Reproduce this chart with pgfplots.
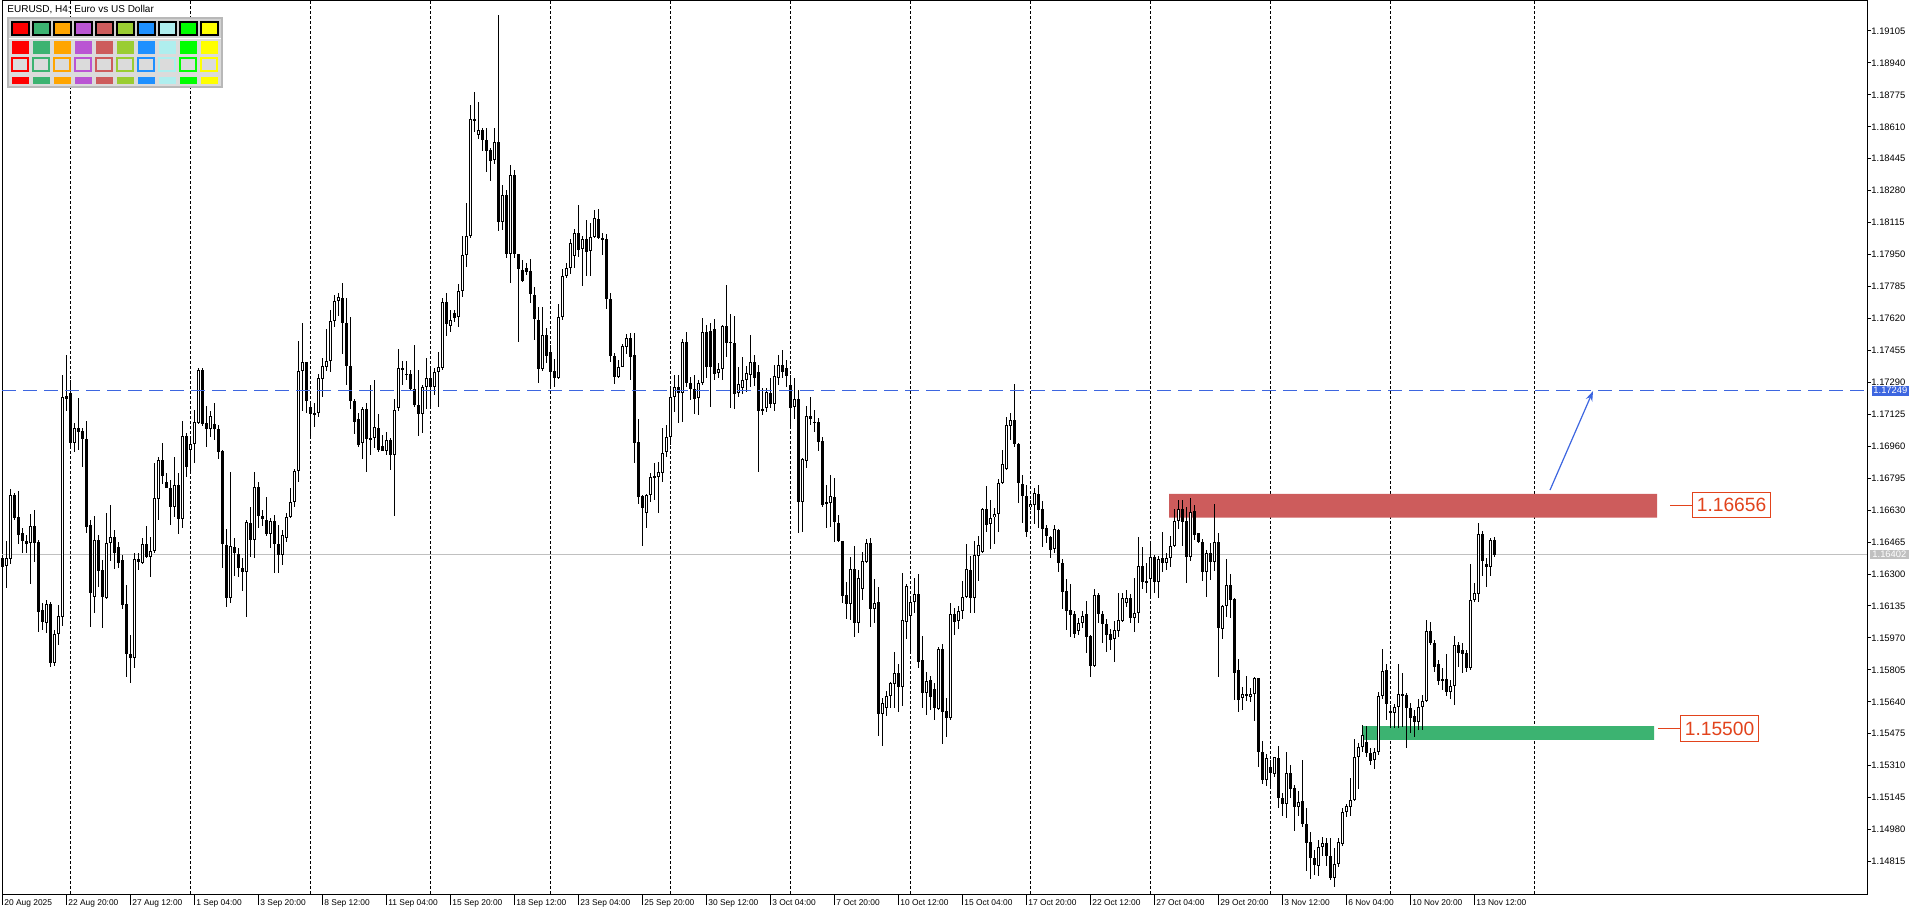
\documentclass[border=0pt]{standalone}
\usepackage{pgfplots}
\pgfplotsset{compat=1.18}
\usepackage{pgfplotstable}
\usepackage{fontspec}
\setmainfont{Liberation Sans}
\usetikzlibrary{arrows.meta}

\definecolor{zblue}{HTML}{3D66E0}
\definecolor{zred}{HTML}{CD5C5C}
\definecolor{zgreen}{HTML}{3CB371}
\definecolor{zlab}{HTML}{E2431C}
\definecolor{zgray}{HTML}{C0C0C0}
\definecolor{pr}{HTML}{FF0000}
\definecolor{pg}{HTML}{3CB371}
\definecolor{po}{HTML}{FFA500}
\definecolor{pm}{HTML}{BA55D3}
\definecolor{pi}{HTML}{CD5C5C}
\definecolor{py}{HTML}{9ACD32}
\definecolor{pd}{HTML}{1E90FF}
\definecolor{pt}{HTML}{AFEEEE}
\definecolor{pl}{HTML}{00FF00}
\definecolor{pw}{HTML}{FFFF00}

% price = \pA - \pB * v   (v = screen row of the 1920x915 chart)
\def\pA{1.19265}
\def\pB{0.00005165}

% EURUSD H4 bars: i = bar number, o h l c = open high low close (screen rows)
\pgfplotstableread{
i o h l c
1 558.3 556.7 570 566.7
2 565.7 541 588.3 558.3
3 559.3 489.3 564 495
4 495 492.7 520 517.7
5 517 491 544 535
6 533.3 528.3 553.3 541.3
7 541 535 553.3 544.3
8 543.3 514 584.3 526
9 526 510 561.7 542.7
10 542 540 631.7 611.7
11 610 603.3 630 621.7
12 622.7 600 633.3 604.3
13 604.3 601.7 666.7 663.3
14 663.3 630 666 634
15 634.3 605 645 616
16 616.7 375 626 396.7
17 396 355 410.7 398.7
18 393.3 380 446.7 442.7
19 442.7 423.3 451.7 428.3
20 428.3 398.3 450 431.7
21 430.7 428.3 467.3 439.3
22 439 421 533.3 526.7
23 525 520 627.3 593.3
24 596.7 516 613.3 540
25 540 535 587.3 570.7
26 570 560 628.3 597.3
27 597.7 513.3 599.3 543.3
28 543.3 505 560.7 537.3
29 537.3 530 569.3 553.3
30 547.3 541.7 568.3 562.7
31 560 555 609.3 605
32 604.3 585 677.3 654.3
33 654.3 635 682.7 658.3
34 658.3 553.3 668.3 559.3
35 559.3 553.3 570 561.7
36 563.3 538.3 564 544
37 544 526 558.3 556.7
38 556.7 536.7 576.7 550.7
39 550.7 463.3 553.3 498.3
40 499.3 456.7 520 460
41 460 443.3 484 476
42 482.3 473.3 488.3 487.7
43 487.7 480 525 507.3
44 506.7 456.7 516.7 485
45 485 473.3 534.3 519
46 519 420.7 528.3 436
47 436 433.3 476.7 466.7
48 450 439.3 471.7 444.3
49 444.3 410 462.7 422
50 422.7 368.3 424 370
51 370 368.3 426 424
52 422.7 406 446.7 429.3
53 429.3 410.7 436.7 416
54 424 403.3 440 429.3
55 429.3 425 459.3 451.7
56 451 450 567.7 544.3
57 545 529 607.3 598.3
58 598.3 471.7 603.3 546
59 546.7 538.3 576 552.7
60 554 548.3 577.3 568.3
61 568.3 558.3 590.7 571.7
62 572.3 520 616.7 522
63 522.7 507 556.8 539.7
64 539.7 471.7 558.3 487.1
65 487.1 481.6 527.9 516
66 516 510 525.9 519.2
67 520 497.4 535.8 533.8
68 533.8 518 547.6 521.1
69 521.1 515.2 573.4 543.7
70 543.7 525.1 572.6 555.5
71 555.5 529.9 565.4 534.6
72 538.5 513.2 541.7 517.2
73 517.2 488.3 518 502.2
74 502.2 468.6 507.3 471.3
75 471.3 340.8 482.4 370.9
76 370.9 323.4 411.2 362.2
77 362.2 361.8 413.2 400.6
78 407.3 403.3 436.1 414.4
79 413.2 403.3 427 414.4
80 413.2 373.7 417.1 377.6
81 378.8 357.8 397.4 365.8
82 366.9 329 370.9 360.6
83 360.6 310.4 371.7 321.1
84 321.1 294.6 326.6 301.3
85 301.3 293.4 316.3 297.3
86 298.5 283.1 353.9 323.4
87 323.4 297.7 385.5 365.8
88 365.8 317.1 409.2 401.3
89 401.3 399.4 434.2 422.3
90 419.1 413.2 446.8 444.8
91 442.9 407.3 459.5 409.2
92 409.2 403.3 472.5 438.9
93 438.1 385.5 454.7 439.7
94 438.1 380.4 447.6 427
95 427.8 414 452 449.6
96 446 435 451.5 450.8
97 450.8 432.2 454.7 439.7
98 439.7 438.1 470.5 454.7
99 454.7 398.6 516 410.4
100 408.1 348.8 411.2 367.7
101 367.7 360.6 385.5 369.7
102 374 361 379.6 374.8
103 373.7 369.7 391.5 388.7
104 388.7 345.2 407.3 405.3
105 405.3 369.7 436.1 414.4
106 414.4 385.5 433 387.5
107 387.5 357.8 409.2 377.6
108 377.6 365.8 407.3 387.5
109 387.5 367.7 394.6 371.7
110 371.7 351.9 407.3 366.9
111 367.7 298.5 369.7 302.5
112 302.5 292.6 336.1 324.2
113 326.2 310.4 332.1 320.3
114 313.2 310.4 322.3 318.3
115 317.5 283.9 327.4 290.6
116 290.6 236.1 296.6 255
117 255 202.8 266.9 236.5
118 236.5 104.8 238 119.4
119 120.6 92.1 132.5 119.4
120 135.2 102 139.2 130.5
121 130.5 128.5 151.4 140.4
122 140.4 128.5 172 151
123 150.3 148.3 181.1 161.3
124 160.1 128.5 164.1 142.3
125 142.3 15 231.3 222.2
126 221.7 185 230 195
127 195 190 257.7 254.3
128 254.3 165 283.3 175
129 175 170 258 254.3
130 254.3 254 341.7 269.3
131 270 260 281.7 280.7
132 268.3 263.3 275 271.7
133 271 259.3 303.3 294.3
134 295 286.7 340 319.3
135 320 306.7 383.3 369
136 369 306.7 371 335
137 335 328.3 363.3 355.7
138 352.3 345 388.3 371.7
139 371 359.3 386.7 378.3
140 378.3 304 379 317.3
141 317.3 269 320 276
142 276 262.7 278.3 268.3
143 268.3 239.3 274 242.7
144 256 229.3 268.3 233.3
145 233.3 205 256.7 250
146 249.3 236 285.7 239.3
147 239.3 220 276 251.7
148 251 223.3 276 236.7
149 236.7 210 238.3 218.3
150 219.3 209.3 239.3 237.7
151 237.7 233.3 255 240
152 239.3 234 309.3 299.3
153 299.3 293.3 361.7 355.7
154 355.7 353.3 384.3 376.7
155 376.7 360 378.3 366.7
156 366.7 344 367.3 346
157 346.7 334 354 338.3
158 338.3 333.3 380 356.7
159 355 333.3 462.7 442.7
160 441.7 419.3 504 496.7
161 496 495 546 508.3
162 513.3 494 528.3 495
163 495 473.3 501.7 477.3
164 477.3 463.3 500 476
165 476.7 461.7 513.3 472
166 472.7 428.3 481.7 452.7
167 451.7 425 457.3 436.7
168 436.7 389.3 445 397.3
169 397.3 375 411.7 387.3
170 387.3 375 423.3 392.7
171 392.7 339.3 421.7 342.3
172 342.3 331.7 386.7 382.7
173 383.3 376.7 400 389.3
174 389.3 375 414.3 399.3
175 398.3 380 415 383.3
176 382.7 318.3 385 331.7
177 331.7 325 378.3 366.7
178 330.7 322.7 407.3 367.3
179 329.3 319.3 380 374.3
180 372.7 363.3 378.3 369.3
181 369.3 325 380 326
182 326 285 356.7 343.3
183 341.7 314 407.7 343.3
184 343.3 316 409.3 394
185 393.3 366.7 397.3 384.3
186 388.3 356.7 394 380
187 380 366 391.7 372.7
188 375 335 387 362
189 362 355 386 378
190 372 365 471.7 410.7
191 409.3 388.3 415 410.7
192 408.3 388.3 412.3 391.7
193 392.7 378 408.3 404.3
194 404.3 365 410.7 376
195 378 355 385 365
196 365 350 378 372
197 368 360 387.3 376
198 385 375 426.7 407.7
199 406.7 378 419.3 399.3
200 399.3 390 532.7 501.7
201 501.7 458.3 531.7 459
202 460.7 406 468.3 416
203 416 396.7 425 419.3
204 421.7 410 431.7 423.3
205 421.7 418.3 450.7 441.7
206 441 437.3 506.7 505
207 504.3 485 528.3 502.3
208 502.7 475 526.7 496
209 497.3 478.3 541.7 521.7
210 523.3 515 541.7 540.7
211 541 541 602.7 596
212 595 581.7 619.3 604.3
213 604.3 557.3 620 569.3
214 569.3 546 636.7 622.7
215 622.7 570 633.3 578.3
216 589.3 552.3 600 561
217 561.7 539.3 562.7 543.3
218 543.3 538.3 627.3 609.3
219 609.3 579.3 622.7 603.3
220 602.3 587.3 735.7 714.3
221 714.3 698.3 745.7 702.7
222 708.3 690.7 716 696
223 696 681.7 708.3 683.3
224 684 651.7 708.3 673.3
225 673.3 664 711.7 686.7
226 686.7 572.7 706 620
227 621.7 584 639.3 586
228 616 598.3 652.7 601.7
229 601.7 578.3 612.7 594
230 594 574 668.3 661.7
231 660 636 708.3 693.3
232 693.3 671.7 715 681
233 680 676 710 696.7
234 689.3 682.7 720 708.3
235 709 646.7 710 649.3
236 649.3 644 744.3 712.3
237 711 698.3 737.3 718.3
238 718.3 603.3 720 614.3
239 614.3 608.3 635 621.7
240 621 606 629.3 611
241 611 580.7 619.3 597.3
242 597.3 544 598.3 569.3
243 570 556 612.7 598.3
244 598.3 541 612.7 555
245 556 536 580.7 545
246 551.7 508.3 552.7 509.3
247 509.3 486 531.7 525
248 524.3 500 549.3 518.3
249 517.3 508.3 544.3 514.3
250 514.3 479.3 531.7 482.7
251 482.7 450 484.3 464.3
252 469.3 416.7 470 425
253 425.7 413.3 440 420
254 420 384 446.7 444.3
255 444.3 443.3 502.7 483.3
256 484.3 475 523.3 495.7
257 496 485 536.7 531.7
258 507.3 500 510 504.3
259 505 488.3 524 493.3
260 494 485 528.3 510
261 509.3 501 546.7 529
262 528.3 525 543.3 535.7
263 536.7 536 558.3 550
264 549 525 552.7 529.3
265 530 529.3 571.7 563.3
266 562.7 559.3 609.3 591.7
267 590.7 579.3 630 610.7
268 610 584 636.7 615
269 614 610.7 637.7 634
270 630.7 618.3 635 623.3
271 623.3 610.7 628.3 615.7
272 614.3 600.7 652.7 636.7
273 636 635 677.3 665.7
274 666 589.3 666.7 595
275 595 592.7 623.3 614.3
276 614 610.7 643.3 624
277 624 619.3 651.7 635
278 634 629.3 650 640
279 639.3 620.7 661.7 630
280 630.7 592.7 636.7 620
281 620.7 592.7 621.7 598
282 603.3 590 606.7 598
283 598 594 622.7 617.7
284 618.3 578.3 631.7 613.3
285 613.3 536.7 622.7 566
286 566 546.7 589.3 582.3
287 581 562.7 592.7 582.3
288 579.3 540.7 596.7 557.3
289 557.3 555 593.3 582.3
290 582.3 556 598.3 559.3
291 558.3 531.7 571.7 563.3
292 563.3 552.7 570 558.3
293 558.3 536 566.7 546
294 545.7 509.3 546.7 521
295 521 500 529 509.3
296 509.3 500 546 521.7
297 521 506.7 583.3 556.7
298 556.7 498.3 560.7 511.7
299 510.7 505 540 535
300 533.3 532.7 542.7 541.7
301 541.7 539.3 580.7 572.3
302 571.7 550 596.7 553.3
303 553.3 542.7 580 561.7
304 561.7 504 570.7 542.3
305 542.3 533.3 676.7 628.3
306 629.3 605 639.3 606
307 606 559.3 617.3 585
308 585 574.3 618.3 600
309 599.3 598.3 700 672.7
310 670 659.3 712 700
311 698.3 687 710 694
312 694.3 676 701 696
313 696.7 687.7 701.7 694.3
314 694.3 676.7 720.7 678.3
315 678.3 678.3 767.3 751.7
316 751.7 740.7 784 780
317 780 754 786 758.3
318 766.7 760 786 773.3
319 774 756.7 776.7 757.3
320 758.3 746 808.3 798.3
321 798.3 793.3 816 804
322 804 751.7 818.3 773.3
323 772.7 765 798.3 789.3
324 788.3 785 830.7 806.7
325 806.7 790.7 816 801.7
326 801 760 826.7 824.3
327 824 808.3 870.7 842.7
328 841.7 831.7 879.3 857.7
329 857.7 850 875 865
330 866 840 876 847.3
331 847.3 836.7 856 843.3
332 843.3 838.3 866 856
333 856 838.3 880 877.7
334 877.7 848.3 887.3 864.3
335 864.3 838.3 867.3 842.3
336 844 808.3 846 812.3
337 812.3 804 817.3 806
338 807.3 778.3 816 800
339 800 739.3 800.7 757.3
340 756.7 742.7 789.3 747.3
341 746.7 725 751.7 735
342 741.7 726 757.3 753.3
343 753.3 748.3 765 760.7
344 760 748.3 769.3 752.3
345 752.3 691.7 755 696
346 696 649 699.3 671
347 670 664 720 704.3
348 710.7 705 728 713.3
349 713.3 704 728.3 707.3
350 707.3 664.3 728.3 694.3
351 695.3 673.3 726.7 694
352 695 693.3 747.7 708.3
353 708.3 703.3 732.7 718.3
354 716 710 736.7 721.7
355 721.7 699.3 730 707.3
356 707.3 695 730 701
357 701 620 701.7 631
358 631 621.7 645 642.7
359 643.3 640 671.7 666.7
360 664 660 685 681
361 679.3 668.3 690 680.7
362 679.3 654 696 691.7
363 691.7 680 699.3 686
364 686 636 705 645
365 645 641.7 666.7 652.7
366 650 643.3 673.3 654.3
367 653.3 650 671.7 667.7
368 667.7 564 670 600
369 600 583.3 601.7 593.3
370 594 523.3 601.7 534
371 534 530.7 576 560.7
372 564 558.3 587.3 567.3
373 567.3 538.3 576 540
374 540 536.7 556.7 555
}\bars

\begin{document}
\begin{tikzpicture}
\begin{axis}[
  at={(1pt,10.5pt)}, anchor=south west,
  scale only axis, width=932.5pt, height=446.5pt,
  xmin=1, xmax=467.25, ymin=1.146475, ymax=1.192598,
  clip=false,
  axis line style={black, line width=0.5pt},
  tick align=outside, major tick length=2pt,
  tick style={black, line width=0.5pt},
  xtick pos=bottom, ytick pos=right, yticklabel pos=right,
  xtick={1,17,...,369},
  xticklabels={20 Aug 2025,22 Aug 20:00,27 Aug 12:00,1 Sep 04:00,3 Sep 20:00,8 Sep 12:00,11 Sep 04:00,15 Sep 20:00,18 Sep 12:00,23 Sep 04:00,25 Sep 20:00,30 Sep 12:00,3 Oct 04:00,7 Oct 20:00,10 Oct 12:00,15 Oct 04:00,17 Oct 20:00,22 Oct 12:00,27 Oct 04:00,29 Oct 20:00,3 Nov 12:00,6 Nov 04:00,10 Nov 20:00,13 Nov 12:00},
  x tick label style={anchor=north west, inner sep=0pt, xshift=1pt, yshift=-0.5pt, font=\fontsize{4.2}{5}\selectfont},
  ytick={1.14815,1.14980,1.15145,1.15310,1.15475,1.15640,1.15805,1.15970,1.16135,1.16300,1.16465,1.16630,1.16795,1.16960,1.17125,1.17290,1.17455,1.17620,1.17785,1.17950,1.18115,1.18280,1.18445,1.18610,1.18775,1.18940,1.19105},
  yticklabels={1.14815,1.14980,1.15145,1.15310,1.15475,1.15640,1.15805,1.15970,1.16135,1.16300,1.16465,1.16630,1.16795,1.16960,1.17125,1.17290,1.17455,1.17620,1.17785,1.17950,1.18115,1.18280,1.18445,1.18610,1.18775,1.18940,1.19105},
  y tick label style={anchor=west, inner sep=0pt, xshift=0pt, font=\fontsize{4.7}{5}\selectfont},
  extra x ticks={18,48,78,108,138,168,198,228,258,288,318,348,384},
  extra x tick labels={},
  extra x tick style={grid=major, major tick length=0pt,
     major grid style={black, line width=0.5pt, dash pattern=on 1.5pt off 1pt}},
]
% zones
\addplot[draw=none, fill=zred] coordinates {(292.75,1.16591) (414.75,1.16591) (414.75,1.16714) (292.75,1.16714) (292.75,1.16591)};
\addplot[draw=none, fill=zgreen] coordinates {(341.25,1.15443) (414,1.15443) (414,1.15515) (341.25,1.15515) (341.25,1.15443)};
% bid line
\addplot[zgray, line width=0.5pt] coordinates {(1,1.16402) (467.25,1.16402)};
% wicks
\addplot[draw=none, mark=none,
  error bars/.cd, y dir=both, y explicit, error mark=none,
  error bar style={draw=black, line width=0.5pt}]
  table[x=i, y expr={\pA-\pB*(\thisrow{h}+\thisrow{l})/2}, y error expr={\pB*(\thisrow{l}-\thisrow{h})/2}] {\bars};
% bodies
\addplot[draw=none, mark=none,
  error bars/.cd, y dir=both, y explicit, error mark=none,
  error bar style={draw=black, line width=1.5pt}]
  table[x=i, y expr={\pA-\pB*(\thisrow{o}+\thisrow{c})/2}, y error expr={\pB*max(abs(\thisrow{o}-\thisrow{c}),1)/2}] {\bars};
% hollow (bullish) bodies
\addplot[draw=none, mark=none,
  error bars/.cd, y dir=both, y explicit, error mark=none,
  error bar style={draw=white, line width=0.5pt}]
  table[x=i, y expr={\pA-\pB*(\thisrow{o}+\thisrow{c})/2}, y error expr={\pB*max((\thisrow{o}-\thisrow{c})/2-1,0)}] {\bars};
% resistance line and arrow
\addplot[zblue, line width=0.7pt, dash pattern=on 7pt off 3.5pt] coordinates {(1,1.17249) (467.25,1.17249)};
\addplot[zblue, line width=0.6pt, -{Stealth[length=5pt, width=3.5pt]}] coordinates {(388,1.16734) (398.75,1.17245)};
% price labels
\addplot[zlab, line width=0.5pt] coordinates {(418,1.16656) (423.5,1.16656)};
\addplot[zlab, line width=0.5pt] coordinates {(415,1.15500) (420.5,1.15500)};
\node[draw=zlab, fill=white, text=zlab, line width=0.5pt, anchor=west, minimum width=39pt, minimum height=12.5pt, inner sep=0pt, font=\fontsize{9.6}{10}\selectfont] at (axis cs:423.5,1.16656) {1.16656};
\node[draw=zlab, fill=white, text=zlab, line width=0.5pt, anchor=west, minimum width=39pt, minimum height=13pt, inner sep=0pt, font=\fontsize{9.6}{10}\selectfont] at (axis cs:420.5,1.15500) {1.15500};
\end{axis}

% overlays in screen-pixel coordinates
\begin{scope}[x=0.5pt, y=-0.5pt, yshift=457.5pt]
  % longer date tick marks
  \foreach \t in {1,17,...,369} {
    \draw[black, line width=0.5pt] ({4*\t-2},894) -- ({4*\t-2},905);
  }
  \fill[zblue] (1872,385.7) rectangle (1909,395.7);
  \node[text=white, font=\fontsize{4.7}{5}\selectfont, inner sep=0pt, anchor=west] at (1873,390.7) {1.17249};
  \fill[zgray] (1870,550) rectangle (1909,559.3);
  \node[text=white, font=\fontsize{4.7}{5}\selectfont, inner sep=0pt, anchor=west] at (1872,554.7) {1.16402};
  % title
  \node[anchor=base west, inner sep=0pt, font=\fontsize{5}{6}\selectfont] at (7,13) {EURUSD, H4: Euro vs US Dollar};
  % colour palette
  \fill[white!86!black] (8,18) rectangle (222,87);
  \fill[white!82!black] (9,19) rectangle (221,38);
  \draw[white, line width=0.5pt] (9,38.5) -- (221,38.5);
  \draw[white!72!black, line width=1pt] (8,18) rectangle (222,87);
  \foreach \c [count=\k from 0] in {pr,pg,po,pm,pi,py,pd,pt,pl,pw} {
    \pgfmathsetmacro{\xa}{11.5+21.05*\k}
    \pgfmathsetmacro{\xb}{\xa+17}
    \filldraw[fill=\c, draw=black, line width=1pt] (\xa,22.5) rectangle (\xb,35.5);
    \fill[\c] (\xa,41) rectangle (\xb,54);
    \filldraw[fill=white!86!black, draw=\c, line width=1pt] (\xa+0.5,58.5) rectangle (\xb-0.5,71.5);
    \fill[\c] (\xa,77) rectangle (\xb,84);
  }
\end{scope}

\pgfresetboundingbox
\path[use as bounding box] (0,0) rectangle (960pt,457.5pt);
\end{tikzpicture}
\end{document}
